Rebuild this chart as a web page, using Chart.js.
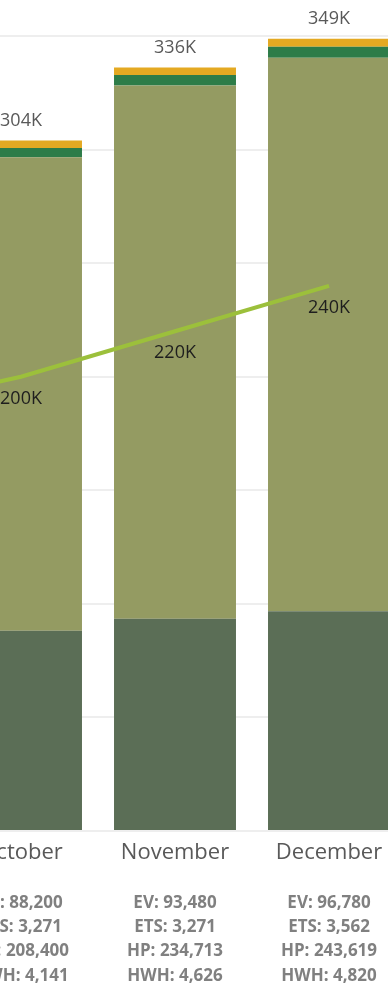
<!DOCTYPE html>
<html>
<head>
<meta charset="utf-8">
<script src="https://cdn.jsdelivr.net/npm/chart.js@4.4.1/dist/chart.umd.min.js"></script>
<style>
  html, body { margin: 0; padding: 0; background: #fff; }
  body { width: 388px; height: 985px; overflow: hidden; position: relative; }
  #wrap { position: absolute; left: -210px; top: 0; width: 616px; height: 1010px; }
</style>
</head>
<body>
<div id="wrap"><canvas id="c"></canvas></div>
<script>
// ---- data ----
const months = ['September', 'October', 'November', 'December'];
const evValues  = [null, 88200, 93480, 96780];
const hpValues  = [null, 208400, 234713, 243619];
const hwhValues = [null, 4141, 4626, 4820];
const etsValues = [null, 3271, 3271, 3562];
const targetValues = [185000, 200000, 220000, 240000]; // September value estimated from the visible slope
const detailLabels = [
  [''],
  ['EV: 88,200', 'ETS: 3,271', 'HP: 208,400', 'HWH: 4,141'],
  ['EV: 93,480', 'ETS: 3,271', 'HP: 234,713', 'HWH: 4,626'],
  ['EV: 96,780', 'ETS: 3,562', 'HP: 243,619', 'HWH: 4,820']
];

const FONT = "'Open Sans', 'Noto Sans', sans-serif";
const fmtK = v => Math.round(v / 1000) + 'K';

const labelPlugin = {
  id: 'labels',
  afterDatasetsDraw(chart) {
    const ctx = chart.ctx;
    ctx.save();
    ctx.textAlign = 'center';
    ctx.textBaseline = 'middle';
    ctx.font = '18px ' + FONT;
    // totals above stacked bars
    const topMeta = chart.getDatasetMeta(3);
    topMeta.data.forEach((el, i) => {
      const total = [evValues, hpValues, hwhValues, etsValues].reduce((s, a) => s + (a[i] || 0), 0);
      if (!total) return;
      ctx.fillStyle = '#595959';
      ctx.fillText(fmtK(total), el.x, el.y - 20);
    });
    // line labels below the points
    const lineMeta = chart.getDatasetMeta(4);
    lineMeta.data.forEach((pt, i) => {
      if (evValues[i] == null) return;
      ctx.fillStyle = '#1e1e1e';
      ctx.fillText(fmtK(targetValues[i]), pt.x, pt.y + 22);
    });
    ctx.restore();
  }
};

new Chart(document.getElementById('c'), {
  type: 'bar',
  data: {
    labels: months,
    datasets: [
      { label: 'EV', data: evValues, backgroundColor: '#5b6e56', stack: 'bars', order: 1 },
      { label: 'HP', data: hpValues, backgroundColor: '#949b62', stack: 'bars', order: 1 },
      { label: 'HWH', data: hwhValues, backgroundColor: '#2d7c48', stack: 'bars', order: 1 },
      { label: 'ETS', data: etsValues, backgroundColor: '#e4a922', stack: 'bars', order: 1 },
      { type: 'line', label: 'Target', data: targetValues, borderColor: '#9cc03b', borderWidth: 4,
        pointRadius: 0, stack: 'line', order: 0, tension: 0 }
    ]
  },
  options: {
    responsive: true,
    maintainAspectRatio: false,
    animation: false,
    categoryPercentage: 0.792,
    barPercentage: 1,
    layout: { padding: { top: 36, bottom: 6.5, left: 0, right: 0 } },
    plugins: { legend: { display: false }, tooltip: { enabled: false } },
    scales: {
      y: {
        stacked: true,
        min: 0, max: 350000,
        ticks: { display: false, stepSize: 50000 },
        border: { display: false },
        grid: { color: '#eeeeee', lineWidth: 2, drawTicks: false, tickLength: 0 }
      },
      x: {
        stacked: true,
        weight: 0,
        grid: { display: false, drawTicks: false, tickLength: 0 },
        border: { display: false },
        ticks: { autoSkip: false, maxRotation: 0, padding: 9, color: '#595959',
                 font: { family: FONT, size: 22 } }
      },
      x2: {
        type: 'category',
        position: 'bottom',
        labels: detailLabels,
        offset: true,
        weight: 1,
        grid: { display: false, drawTicks: false, tickLength: 0 },
        border: { display: false },
        ticks: { autoSkip: false, maxRotation: 0, padding: 15.45, color: '#808080',
                 font: { family: FONT, size: 17, weight: 'bold', lineHeight: '24.3px' } }
      }
    }
  },
  plugins: [labelPlugin]
});
</script>
</body>
</html>
